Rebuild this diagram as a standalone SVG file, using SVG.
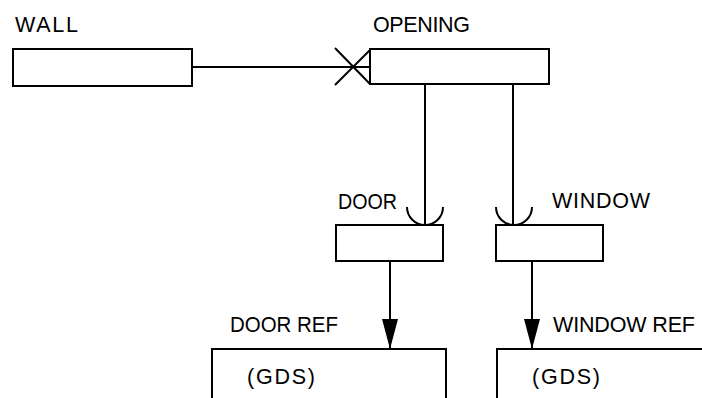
<svg xmlns="http://www.w3.org/2000/svg" width="702" height="398" viewBox="0 0 702 398">
<style>
.box{fill:none;stroke:#000;stroke-width:2}
.ln{fill:none;stroke:#000;stroke-width:2}
text{font-family:"Liberation Sans",Arial,sans-serif;font-size:21.5px;fill:#000}
</style>
<defs>
<marker id="arr" markerWidth="30" markerHeight="16" refX="30" refY="8" orient="auto" markerUnits="userSpaceOnUse" viewBox="0 0 30 16">
<path d="M0,0 L30,8 L0,16 Z" fill="#000"/>
</marker>
</defs>
<rect width="702" height="398" fill="#fff"/>
<g id="wall">
<rect class="box" x="13" y="49" width="179" height="37"/>
<text x="15" y="32" textLength="63" lengthAdjust="spacing">WALL</text>
</g>
<g id="opening">
<rect class="box" x="370" y="49" width="179" height="35"/>
<text x="373" y="32" textLength="97" lengthAdjust="spacing">OPENING</text>
</g>
<g id="door">
<rect class="box" x="336" y="225" width="107" height="36"/>
<text x="338" y="209" textLength="59" lengthAdjust="spacingAndGlyphs">DOOR</text>
</g>
<g id="window">
<rect class="box" x="496" y="225" width="107" height="36"/>
<text x="552" y="208" textLength="98" lengthAdjust="spacing">WINDOW</text>
</g>
<g id="doorref">
<path class="box" d="M212,400 V349 H446 V400"/>
<text x="230" y="332" textLength="108" lengthAdjust="spacingAndGlyphs">DOOR REF</text>
<text x="247" y="384" textLength="68" lengthAdjust="spacing">(GDS)</text>
</g>
<g id="windowref">
<path class="box" d="M497,400 V349 H704"/>
<text x="553" y="332" textLength="142" lengthAdjust="spacing">WINDOW REF</text>
<text x="532" y="384" textLength="68" lengthAdjust="spacing">(GDS)</text>
</g>
<g id="connectors">
<path class="ln" d="M192,67 H370"/>
<path class="ln" d="M335,48 L370,84"/>
<path class="ln" d="M335,85 L370,50"/>
<path class="ln" d="M425,84 V225"/>
<path class="ln" d="M407,207 A18,18 0 0 0 443,207"/>
<path class="ln" d="M513,84 V225"/>
<path class="ln" d="M496,207 A18,18 0 0 0 532,207"/>
<path class="ln" d="M390,261 V349" marker-end="url(#arr)"/>
<path class="ln" d="M532,261 V349" marker-end="url(#arr)"/>
</g>
</svg>
